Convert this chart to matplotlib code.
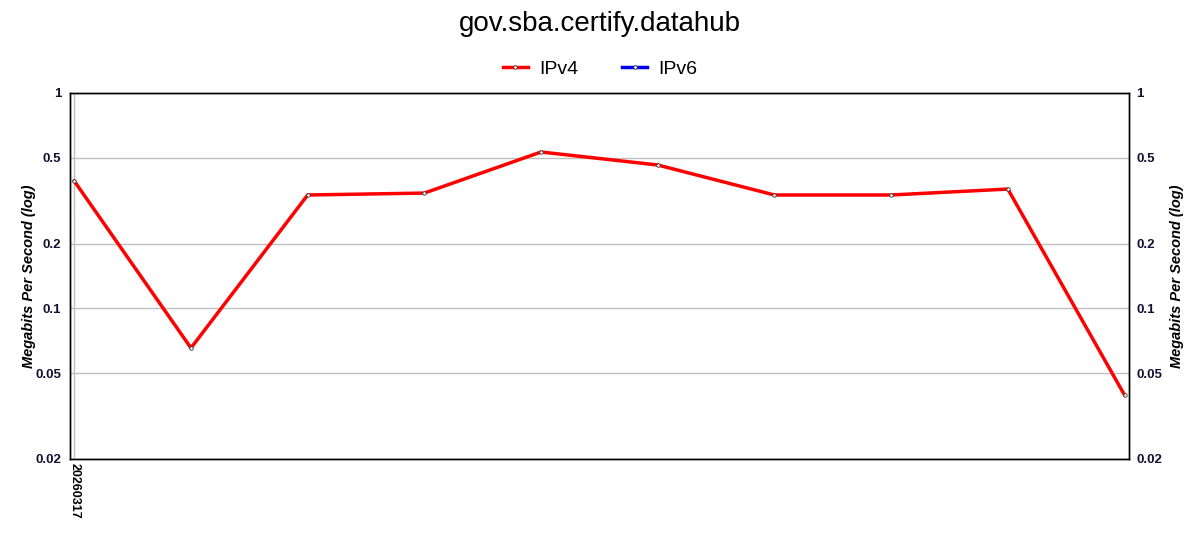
import matplotlib
matplotlib.use("Agg")
import matplotlib.pyplot as plt
from matplotlib.ticker import FixedLocator, NullLocator, FixedFormatter

plt.rcParams['font.family'] = ['Liberation Sans', 'DejaVu Sans']

dates = ["20260317", "", "", "", "", "", "", "", "", ""]
ipv4 = [0.390, 0.0655, 0.336, 0.343, 0.532, 0.463, 0.336, 0.336, 0.358, 0.0396]
ipv6 = []
yticks = [0.02, 0.05, 0.1, 0.2, 0.5, 1]
ytick_labels = ["0.02", "0.05", "0.1", "0.2", "0.5", "1"]

fig = plt.figure(figsize=(12, 5.5), dpi=100)
ax = fig.add_axes([0.058, 0.1655, 0.883, 0.6655])

x = list(range(len(ipv4)))
ax.plot(x, ipv4, color='#ff0000', lw=2.5, marker='o', markersize=2.5,
        markerfacecolor='white', markeredgecolor='#333333', markeredgewidth=0.6,
        label='IPv4', zorder=3)
ax.plot([], [], color='#0000ee', lw=2.5, marker='o', markersize=2.5,
        markerfacecolor='white', markeredgecolor='#333333', markeredgewidth=0.6,
        label='IPv6')


def style_y(a):
    a.set_yscale('log')
    a.set_ylim(0.02, 1)
    a.yaxis.set_major_locator(FixedLocator(yticks))
    a.yaxis.set_major_formatter(FixedFormatter(ytick_labels))
    a.yaxis.set_minor_locator(NullLocator())
    a.tick_params(axis='y', which='both', length=0, pad=6, labelsize=9.5,
                  labelcolor='#111133')


style_y(ax)
ax.set_xlim(-0.04, len(ipv4) - 1 + 0.04)
ax.grid(axis='y', color='#c0c0c0', lw=1)
ax.axvline(0, color='#c0c0c0', lw=1, zorder=1)

ax.set_xticks([0])
ax.set_xticklabels([dates[0]], rotation=270, fontsize=9, fontweight='bold')
ax.tick_params(axis='x', length=0, pad=3)

ax2 = ax.twinx()
style_y(ax2)
ax2.tick_params(axis='y', pad=5)

for a in (ax, ax2):
    for lab in a.get_yticklabels():
        lab.set_fontweight('bold')
    for s in a.spines.values():
        s.set_color('black')
        s.set_linewidth(1)

ax.set_ylabel('Megabits Per Second (log)', fontsize=10.5, fontweight='bold',
              fontstyle='italic')
ax.yaxis.set_label_coords(-0.0316, 0.5)
ax2.set_ylabel('Megabits Per Second (log)', fontsize=10.5, fontweight='bold',
               fontstyle='italic', rotation=90)
ax2.yaxis.set_label_coords(1.0384, 0.5)

fig.suptitle('gov.sba.certify.datahub', fontsize=20, y=0.98)
fig.legend(loc='center', bbox_to_anchor=(0.5, 1 - 69 / 550), ncol=2, frameon=False,
           fontsize=14, handlelength=1.3, handletextpad=0.57, columnspacing=2.27)

fig.savefig('out.png', dpi=100)
